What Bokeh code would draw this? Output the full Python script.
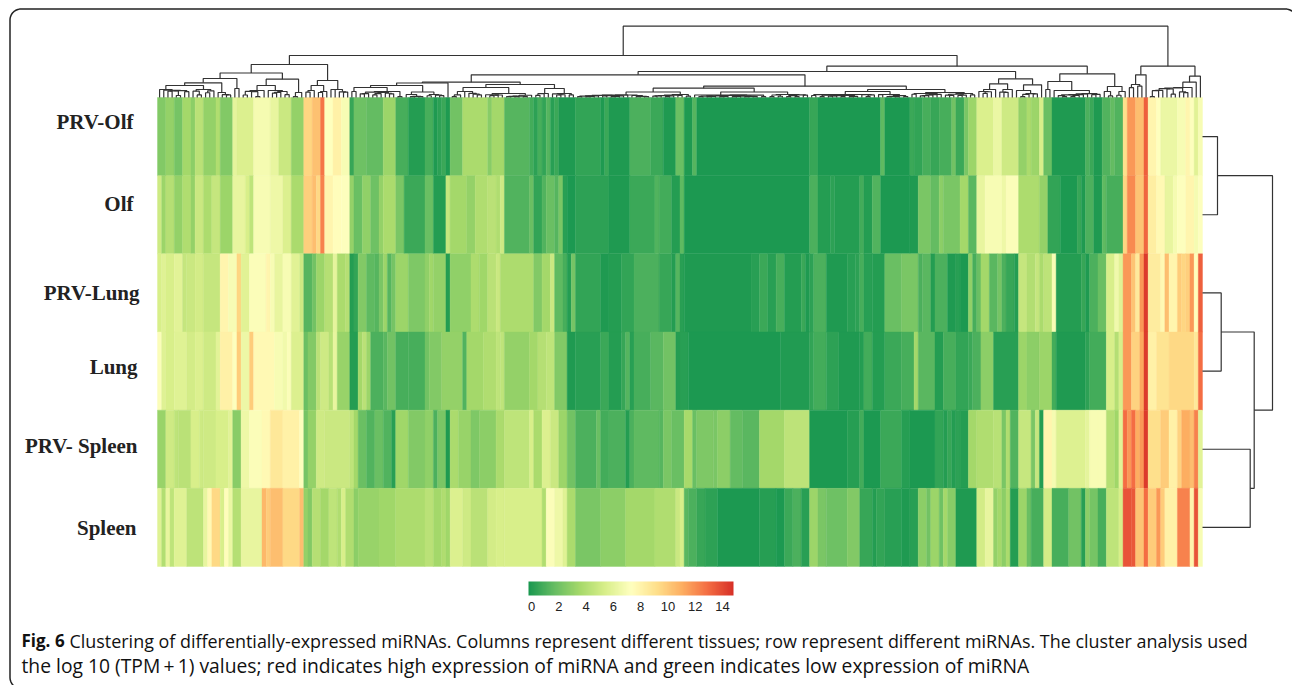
import numpy as np
from bokeh.plotting import figure
from bokeh.models import Range1d, LinearColorMapper, ColorBar, FixedTicker, ColumnDataSource
from bokeh.core.properties import value
from bokeh.embed import file_html
from bokeh.resources import INLINE

ROW_NAMES = ["PRV-Olf", "Olf", "PRV-Lung", "Lung", "PRV- Spleen", "Spleen"]

# each row: (last column of the run, log expression of the run as first)
PRV_OLF = [(2,2.2),(4,2.6),(6,1.9),(8,3),(9,2.4),(11,3.8),(14,2.6),(15,3.4),(18,2.2),(19,5.8),(23,5.2),(27,6.8),(29,6),(32,4.4),(35,2.6),(37,9.3),(39,9.9),(40,11.8),(42,7.5),(44,8.2),(46,7),(47,0.6),(50,1.7),(54,1.5),(57,2.8),(60,0.9),(64,0.2),(66,0.9),(67,0.1),(68,0.4),(69,0.7),(70,0.1),(73,1.8),(79,3.2),(80,2.3),(83,3),
 (89,1.2),(90,0.8),(91,0.4),(92,0.9),(93,0.5),(94,1.2),(95,0.3),(96,0.7),(100,0.1),(106,0.5),(107,0.1),(108,0.7),(113,0.1),(118,1.0),(121,0.7),(124,0.1),(126,1.6),(128,0.1),(129,1.2),(156,0.05),(158,0.6),
 (173,0.05),(174,1.4),(180,0.05),(181,0.7),(183,0.5),(185,0.9),(187,0.6),(190,0.9),(191,1.8),(193,0.7),(194,2),(196,2.8),(200,5.1),(202,6.2),(206,4.6),(208,2.6),(209,3.2),(211,2.8),(212,5),(214,1.6),(222,0.1),(223,1),(224,0.7),(226,0.1),(228,1.1),(229,1.5),(231,1.1),(232,9),(234,11),(236,10),(237,12.5),(239,8),(240,7.5),(244,6.2),(246,7),(247,8),(248,7.4),(249,5.5),(250,7)]
OLF = [(1,4.5),(2,2.8),(4,3.6),(6,2.6),(8,3.4),(9,2.6),(11,4.4),(13,3.3),(15,4.2),(18,2.8),(21,6),(22,5),(23,4),(27,7),(30,6.4),(32,5.2),(35,3.2),(37,9.5),(38,10),(39,9.2),(40,11.5),(42,8),(44,7.6),(46,7.4),(47,2.6),(49,1.6),(51,2.5),(53,1.7),(54,2.6),(57,3.2),(59,2),(64,0.7),(66,1.6),(69,0.2),(70,4.3),(74,3),(76,2.6),(79,3.4),(81,3.8),(82,3.4),
 (83,4.6),(89,1.1),(90,1.6),(92,0.5),(93,1.1),(95,1.6),(96,1.2),(97,2),(98,0.3),(100,0.05),(108,0.4),(113,0.1),(119,0.7),(120,1.1),(123,0.8),(125,0.2),(126,1.4),(156,0.05),(158,1),(161,0.2),(162,0.4),(168,0.2),
 (169,0.8),(171,0.2),(173,1.1),(180,0.05),(182,0.1),(185,2),(187,1.5),(188,2.4),(192,2),(194,3),(196,1.3),(198,6),(202,7),(203,6.4),(206,7.2),(211,3.3),(213,2.6),(216,0.5),(220,0.05),(221,0.6),(222,0.1),(224,1),(226,0.1),(227,1.4),(231,0.9),(232,9.3),(234,11.3),(236,9.8),(237,12.3),(239,8.3),(241,7.8),(243,6),(244,6.8),(246,7.4),(248,8),(249,6.8),(250,7.4)]
PRV_LUNG = [(1,5),(2,5.4),(4,5),(6,5.6),(7,4.2),(9,4.4),(11,4.8),(15,4.2),(17,8),(19,7),(20,9.3),(22,5.5),(26,7.2),(27,8),(28,7),(30,6),(32,7),(34,5.5),(35,4.5),(37,1.2),(38,1.8),(40,2.8),(42,3.6),(43,5.8),(45,3.2),(46,3.6),(47,0.2),(48,0.5),(50,2.2),(52,1.4),(53,1.2),(54,2),(55,2.8),(56,1.2),(57,1.9),(60,2.8),(64,2.1),(65,2.5),(66,2.9),(69,2.6),(70,0.2),(75,2.5),(77,3.3),(79,2.9),(81,3.8),(82,4.4),
 (90,3.3),(92,2.2),(94,3),(95,4.4),(97,1.4),(98,0.9),(99,0.2),(100,1.9),(106,0.5),(108,0.1),(111,0.2),(114,0.5),(120,1),(123,0.6),(124,0.2),(125,1.2),(126,0.3),(142,0.1),(144,0.3),(146,0.7),(148,0.3),(150,0.9),(154,0.2),(155,0.7),(156,0.1),(157,0.4),(160,1),(165,0.1),(167,0.3),
 (168,0.4),(169,0.9),(171,0.3),(174,0.2),(178,1.6),(182,2),(183,1),(185,1.3),(186,0.2),(189,1),(191,0.1),(192,0.3),(194,0.05),(195,2.5),(196,0.9),(197,1.6),(199,3),(201,1.3),(202,1.9),(203,1),(205,0.6),(206,0.2),(208,4.2),(210,3.5),(211,4.2),(212,3.2),(214,3.9),(215,7),(221,0.2),(222,0.6),(223,0.1),(225,1),(227,1.6),(229,5),(230,6.5),(231,5.5),(233,11),(234,9.8),(235,8.5),(236,11),(237,14),(240,8.4),(241,7.8),(242,10),(244,8),(245,9.6),(246,9.3),(247,9.5),(248,11),(249,7.6),(250,12.5)]
LUNG = [(1,7.2),(2,5.4),(4,5),(7,5.4),(9,4.8),(11,5.2),(14,4.6),(15,5.6),(18,8.2),(19,7.4),(20,9.6),(22,6.3),(23,9.6),(28,7.8),(30,7),(31,6.6),(32,7.2),(35,5.2),(36,1.6),(38,2.2),(39,3.8),(41,4.6),(42,3.7),(43,6),(46,2.7),(48,0.2),(49,3),(50,3.8),(51,2.8),(54,1),(55,1.3),(57,1.8),(60,0.9),(64,0.9),(65,1.8),(68,2.2),(73,2.6),(74,1.1),(78,3),(81,3.4),(82,4),
 (83,4),(89,2.6),(91,3),(93,3.6),(95,4),(98,2.2),(100,0.1),(106,0.3),(108,0.7),(111,0.2),(112,0.6),(113,1.2),(114,0.3),(118,0.9),(121,1.3),(124,1.8),(125,0.2),(127,0.3),(149,0.05),(156,0.15),(157,0.5),(160,0.8),(163,0.4),(168,0.1),
 (169,0.2),(171,0.8),(174,0.2),(178,0.7),(181,0.9),(182,3),(186,1.3),(188,0.2),(191,0.9),(194,0.5),(195,0.7),(197,1),(200,2.4),(206,0.3),(208,2.8),(211,2.4),(214,2.8),(215,0.8),(222,0.1),(223,0.4),(227,0.8),(229,5),(230,3.6),(231,5),(233,11),(235,9.4),(236,10.6),(237,14),(239,8.2),(242,8.8),(248,9.2),(249,8.6),(250,12)]
PRV_SPLEEN = [(2,2.7),(4,4.6),(5,4),(8,3.8),(10,5),(11,4.5),(14,4.6),(17,5),(18,5.6),(20,2.3),(22,6.4),(25,7.2),(27,7.8),(30,8.6),(34,8.2),(35,7.4),(36,1.9),(38,2.6),(40,4.6),(46,4.4),(47,4),(48,3),(50,1.6),(52,1.1),(54,1.6),(56,1.1),(57,0.3),(60,2.9),(64,2.2),(66,2.5),(67,1),(69,2),(70,0.1),(72,3.2),(75,2.7),(77,2.1),(81,2.4),(83,3.2),
 (89,4),(90,5),(92,3.2),(94,5.2),(96,4.4),(98,2.8),(100,1.8),(105,1),(106,1.6),(108,0.8),(112,1),(113,0.2),(114,1),(120,1.4),(121,1.2),(123,2),(126,1.6),(128,3.1),(129,1.6),(133,2.1),(134,2),(137,2.4),(140,1.5),(144,1.3),(150,3),(156,3.9),(165,0.05),(168,0.25),
 (169,0.8),(173,0.05),(178,0.7),(180,0.25),(186,0.05),(188,0.5),(189,0.2),(190,0.6),(191,0.2),(192,0.4),(194,0.2),(196,3),(200,3.4),(202,3.7),(203,2),(204,3.4),(206,1.1),(209,4.3),(210,2),(211,4.2),(212,0.2),(214,8),(215,6.8),(222,5.3),(223,5.8),(225,7),(227,7),(229,3.6),(230,2.9),(231,5.6),(232,12),(233,11),(234,12),(235,10.5),(236,11),(237,14),(240,9),(242,9.6),(244,8.2),(245,9.4),(247,10.5),(248,10),(249,11.5),(250,5.6)]
SPLEEN = [(1,5.4),(2,3.5),(3,6),(4,4),(7,5.4),(11,3.9),(12,6),(13,7.8),(15,9.2),(16,5),(17,7.6),(18,6.2),(20,3.6),(25,6),(26,10.2),(27,9.6),(30,10),(34,9.2),(35,10),(36,2.6),(37,2.2),(39,3.6),(41,3),(43,4),(44,3.4),(45,5),(47,3.4),(48,2.4),(53,2.7),(57,2.9),(64,3.3),(66,3.8),(68,3),(69,3.4),(70,2.9),(73,5.2),(75,4.6),(79,3.8),(81,4.8),(83,5),
 (92,5),(93,3.4),(95,7.2),(97,6.4),(98,5.4),(100,3.2),(106,2),(112,2.4),(119,3),(124,3.4),(125,4.4),(126,5),(127,1.3),(129,1),(131,0.6),(134,0.4),(144,0.05),(148,0.25),(150,0.05),(152,0.7),(154,1),(156,0.3),(158,2.8),(160,2),(165,1.7),(168,2.2),
 (171,0.6),(172,0.2),(174,0.5),(178,0.3),(180,0.1),(182,0.3),(184,2.4),(185,1.8),(187,2.8),(188,1.7),(189,3),(191,2.3),(196,0.1),(198,4.8),(200,6),(201,2.6),(202,3),(203,2.4),(204,3.2),(206,0.2),(208,2.8),(209,1.6),(212,0.9),(214,4.8),(218,0.9),(221,1.8),(222,0.3),(223,2.4),(225,1.9),(227,0.9),(230,4),(231,5),(233,13),(234,12.8),(236,9.8),(237,12),(239,9.6),(240,11),(241,9.6),(244,8.2),(247,11.5),(248,8),(249,13),(250,7)]
ROWS = [PRV_OLF, OLF, PRV_LUNG, LUNG, PRV_SPLEEN, SPLEEN]
# calibration of those readings against the colour legend
READ_AS = [0, 1.5, 3, 5, 7.5, 9, 10.5, 12, 14.5]
LEGEND_VALUE = [0, 1.85, 3.7, 5.55, 7.4, 9.25, 11.1, 12.95, 14.8]
LEGEND_TICKS = [0, 2, 4, 6, 8, 10, 12, 14]
CAPTION_BOLD = "Fig. 6"
CAPTION_1 = "Clustering of differentially-expressed miRNAs. Columns represent different tissues; row represent different miRNAs. The cluster analysis used"
CAPTION_2 = "the log 10 (TPM\u2009+\u20091) values; red indicates high expression of miRNA and green indicates low expression of miRNA"

# column clustering: [height, left, right]; (first col, end col, tuft height) is a tuft of leaves
A1 = [33, [24.5, [19, [14.7, [12, (0,8,8), (8,14,8)], (14,18,5)], (18,20,9)],
               [18.3, [12, (20,26,7), (26,32,7)], (32,35,5)]],
      [17, [12, (35,38,7), (38,41,6)], (41,46,8)]]
N469 = [15.3, [14.5, [12, [10, (46,48,6), (48,59,6)], [5.5, (59,64,3), (64,69,3)]], (69,70,0)],
        [13, [10, (70,78,6), (78,90,4)], [9, (90,94,4), (94,100,4)]]]
N817 = [11.3, [9.3, [5.5, (100,118,2.5), (118,128,3)], [5.5, (128,146,2.5), (146,156,3)]],
        [8, [6, (156,172,3), (172,180,3)], [5, (180,188,4), (188,196,4)]]]
N1016 = [18.7, [13.7, (196,201,8), (201,205,8)], [12.7, (205,211,7), (211,212,0)]]
N1091 = [23.7, [16, (212,214,8), (214,226,7)], [11, (226,229,6), (229,232,6)]]
A2 = [31.3, [26, [22.7, N469, N817], N1016], N1091]
B = [31.3, [22.7, (232,236,13), (236,237,0)], [21.3, [15.3, (237,248,10), (248,249,0)], (249,250,0)]]
COL_TREE = [71.3, [42, A1, A2], B]
# row clustering
ROW_TREE = [70, [15, 0, 1], [51.7, [18.7, 2, 3], [47.7, 4, 5]]]

# layout (page pixels)
W, H = 1292, 685
HX0, HX1, HY0, HY1 = 157.0, 1202.0, 97.0, 566.0
PX_COL = (HX1 - HX0) / 250
PX_ROW = (HY1 - HY0) / 6
LABEL_RIGHT = [133, 133, 139, 137, 137, 136]
LABEL_Y = [121, 203, 292, 366, 445, 527]

p = figure(width=W, height=H, output_backend="svg", toolbar_location=None,
           x_axis_location=None, y_axis_location=None, min_border=0,
           x_range=Range1d((0 - HX0) / PX_COL, (W - HX0) / PX_COL),
           y_range=Range1d((H - HY0) / PX_ROW, (0 - HY0) / PX_ROW))
p.grid.visible = False
p.outline_line_color = None
p.background_fill_color = "white"
p.border_fill_color = "white"

def cx(px): return (px - HX0) / PX_COL
def cy(py): return (py - HY0) / PX_ROW

stops = ["#1a9850", "#66bd63", "#a6d96a", "#d9ef8b", "#ffffbf", "#fee08b", "#fdae61", "#f46d43", "#d73027"]
rgb = np.array([[int(c[i:i + 2], 16) for i in (1, 3, 5)] for c in stops], float)
t = np.linspace(0, len(stops) - 1, 256)
palette = ["#%02x%02x%02x" % tuple(int(round(np.interp(k, range(len(stops)), rgb[:, j]))) for j in range(3)) for k in t]
legend_mapper = LinearColorMapper(palette=palette, low=-0.22, high=14.8)
heat_mapper = LinearColorMapper(palette=palette, low=0.0, high=14.8)

# heat map
left, right, top, bottom, val = [], [], [], [], []
matrix = np.zeros((6, 250))
for i, runs in enumerate(ROWS):
    s = 0
    for e, raw in runs:
        v = float(np.interp(raw, READ_AS, LEGEND_VALUE))
        left.append(s); right.append(e); top.append(i); bottom.append(i + 1); val.append(v)
        matrix[i, s:e] = v
        s = e
src = ColumnDataSource(dict(left=left, right=right, top=top, bottom=bottom, v=val))
p.quad(left="left", right="right", top="top", bottom="bottom", source=src,
       fill_color={"field": "v", "transform": heat_mapper},
       line_color={"field": "v", "transform": heat_mapper}, line_width=0.4)

# dendrograms
DX, DY = [], []
def bracket(xl, hl, xr, hr, h):
    DX.append([xl, xl, xr, xr]); DY.append([-hl / PX_ROW, -h / PX_ROW, -h / PX_ROW, -hr / PX_ROW])

def tuft(s, e, hmax):
    cl = [dict(x=c + 0.5, h=0.0, v=matrix[:, c].copy(), n=1) for c in range(s, e)]
    merges = []
    while len(cl) > 1:
        ds = [np.linalg.norm(cl[i]["v"] - cl[i + 1]["v"]) for i in range(len(cl) - 1)]
        i = min(range(len(ds)), key=lambda k: (round(ds[k], 2), cl[k]["n"] + cl[k + 1]["n"]))
        a, b = cl[i], cl[i + 1]
        n = a["n"] + b["n"]
        m = dict(x=(a["x"] + b["x"]) / 2, h=0.0, v=(a["v"] * a["n"] + b["v"] * b["n"]) / n, n=n, d=ds[i], a=a, b=b)
        merges.append(m)
        cl[i:i + 2] = [m]
    if not merges:
        return cl[0]["x"], 0.0
    dm = max(m["d"] for m in merges) or 1.0
    for m in merges:
        h = 0.8 + (hmax - 0.8) * (m["d"] / dm) ** 0.7
        h = max(h, m["a"]["h"] + 0.25, m["b"]["h"] + 0.25)
        m["h"] = min(h, hmax)
        bracket(m["a"]["x"], m["a"]["h"], m["b"]["x"], m["b"]["h"], m["h"])
    root = merges[-1]
    return root["x"], root["h"]

def walk(node):
    if isinstance(node, tuple):
        return tuft(*node)
    h, l, r = node
    xl, hl = walk(l)
    xr, hr = walk(r)
    bracket(xl, hl, xr, hr, h)
    return (xl + xr) / 2, h

walk(COL_TREE)
p.multi_line(DX, DY, line_color="#333333", line_width=1.2)

RX, RY = [], []
def walk_rows(node):
    if isinstance(node, int):
        return node + 0.5, 0.0
    h, a, b = node
    ya, ha = walk_rows(a)
    yb, hb = walk_rows(b)
    RX.append([250 + ha / PX_COL, 250 + h / PX_COL, 250 + h / PX_COL, 250 + hb / PX_COL])
    RY.append([ya, ya, yb, yb])
    return (ya + yb) / 2, h
walk_rows(ROW_TREE)
p.multi_line(RX, RY, line_color="#333333", line_width=1.2)

# row labels
p.text(x=[cx(v) for v in LABEL_RIGHT], y=[cy(v) for v in LABEL_Y], text=ROW_NAMES,
       text_font=value("Liberation Serif"), text_font_style="bold", text_font_size="21px",
       text_align="right", text_baseline="middle", text_color="#222222")

# colour legend
bar = ColorBar(color_mapper=legend_mapper, ticker=FixedTicker(ticks=LEGEND_TICKS), width=205, height=14,
               location=(528, 72), padding=0, major_tick_line_color=None, bar_line_color=None,
               major_label_text_font="Liberation Sans", major_label_text_font_size="13px",
               major_label_text_color="#222222", label_standoff=6,
               background_fill_color=None, border_line_color=None, orientation="horizontal")
p.add_layout(bar, "center")

# caption
p.text(x=[cx(21)], y=[cy(640)], text=[CAPTION_BOLD], text_font=value("Open Sans"), text_font_style="bold",
       text_font_size="17px", text_baseline="middle", text_color="#111111")
p.text(x=[cx(69)], y=[cy(640)], text=[CAPTION_1], text_font=value("Open Sans"),
       text_font_size="17.93px", text_baseline="middle", text_color="#111111")
p.text(x=[cx(21)], y=[cy(665)], text=[CAPTION_2], text_font=value("Open Sans"),
       text_font_size="19.3px", text_baseline="middle", text_color="#111111")

# rounded frame of the figure panel
x0, y0, x1, y1, r = 9.5, 8.5, 1296.0, 688.0, 11.0
a = np.linspace(0, np.pi / 2, 12)
fx = np.r_[x0 + r - r * np.cos(a), x1 - r + r * np.sin(a), x1 - r + r * np.cos(a), x0 + r - r * np.sin(a), x0]
fy = np.r_[y0 + r - r * np.sin(a), y0 + r - r * np.cos(a), y1 - r + r * np.sin(a), y1 - r + r * np.cos(a), y0 + r]
p.line(cx(fx), cy(fy), line_color="#222222", line_width=1.5)

open("out.html", "w").write(file_html(p, INLINE))
